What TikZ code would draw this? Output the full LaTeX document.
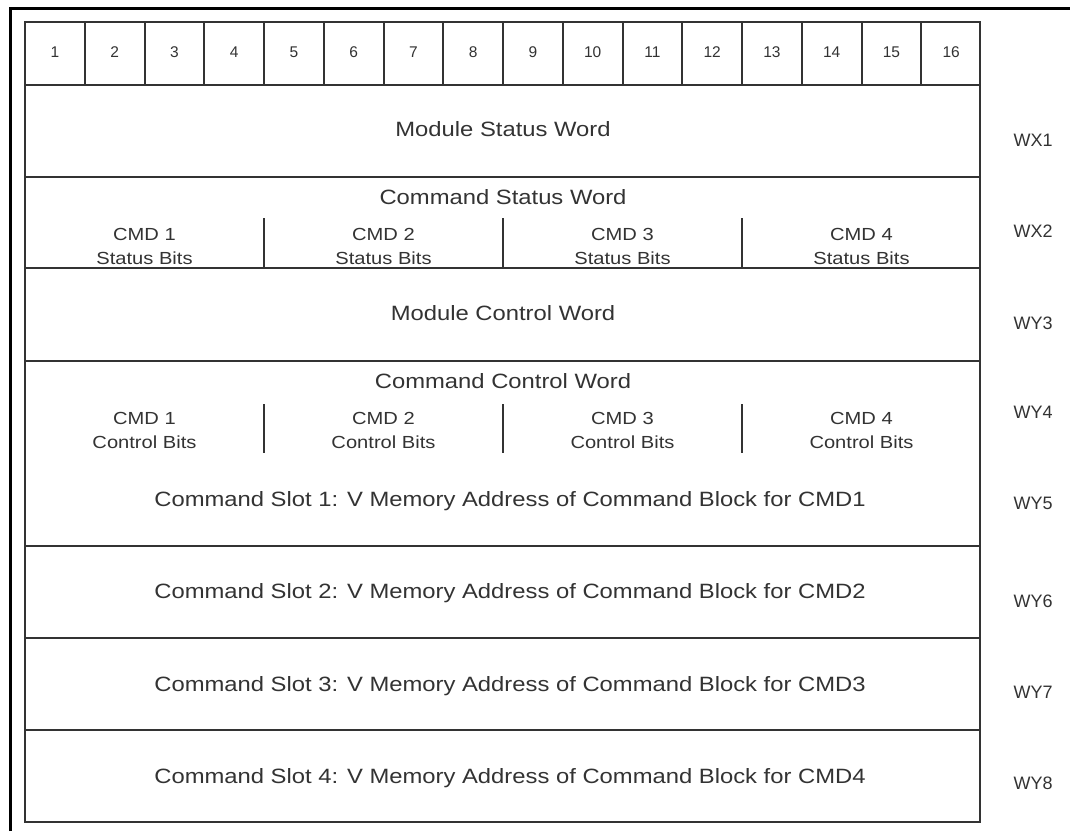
\documentclass[tikz,border=0pt]{standalone}
\usepackage{fontspec}
\setmainfont{Liberation Sans}
\newfontfamily\widefont{Liberation Sans}[FakeStretch=1.15]
\definecolor{ink}{HTML}{333333}
\definecolor{txt}{HTML}{333333}
\begin{document}
\begin{tikzpicture}[x=1pt,y=-1pt,
  grid/.style={draw=ink,line width=2pt},
  frame/.style={draw=black,line width=3pt},
  lbl/.style={inner sep=0pt,anchor=center,text=txt,text height=0.716em,text depth=0pt},
  bignote/.style={lbl,font=\widefont\fontsize{20.7}{24}\selectfont},
  smallnote/.style={lbl,font=\widefont\fontsize{17.5}{20}\selectfont},
  bitnum/.style={lbl,font=\fontsize{15.5}{18}\selectfont},
  wordlbl/.style={lbl,font=\fontsize{18}{21}\selectfont}]
\useasboundingbox (0,0) rectangle (1070,831);
\fill[white] (0,0) rectangle (1070,831);
% outer frame (left and top edges visible)
\draw[frame] (10,831) -- (10,8.5) -- (1070,8.5);
% table
\draw[grid] (25,22) rectangle (980,822);
\foreach \i in {1,...,15} \draw[grid] ({25+59.75*\i},22) -- ({25+59.75*\i},85);
\foreach \y in {85,177,268,361,546,638,730} \draw[grid] (25,\y) -- (980,\y);
\foreach \k in {1,2,3} {
  \draw[grid] ({25+239*\k},218) -- ({25+239*\k},268);
  \draw[grid] ({25+239*\k},404) -- ({25+239*\k},453);
}
% bit numbers
\foreach \i in {1,...,16} \node[bitnum] (b\i) at ({25+59.75*(\i-0.5)},54) {\i};
% row texts
\node[bignote] (msw) at (503,133) {Module Status Word};
\node[bignote] (csw) at (503,201) {Command Status Word};
\node[bignote] (mcw) at (503,317) {Module Control Word};
\node[bignote] (ccw) at (503,385) {Command Control Word};
\foreach \k in {1,2,3,4} {
  \node[smallnote] (sc\k) at ({25+239*(\k-0.5)},237) {CMD \k};
  \node[smallnote] (sb\k) at ({25+239*(\k-0.5)},261) {Status Bits};
  \node[smallnote] (cc\k) at ({25+239*(\k-0.5)},421) {CMD \k};
  \node[smallnote] (cb\k) at ({25+239*(\k-0.5)},445) {Control Bits};
}
\node[bignote] (s1) at (510,503) {Command Slot 1: V Memory Address of Command Block for CMD1};
\node[bignote] (s2) at (510,595) {Command Slot 2: V Memory Address of Command Block for CMD2};
\node[bignote] (s3) at (510,688) {Command Slot 3: V Memory Address of Command Block for CMD3};
\node[bignote] (s4) at (510,780) {Command Slot 4: V Memory Address of Command Block for CMD4};
% word labels
\node[wordlbl] (wx1) at (1033,143) {WX1};
\node[wordlbl] (wx2) at (1033,234) {WX2};
\node[wordlbl] (wy3) at (1033,326) {WY3};
\node[wordlbl] (wy4) at (1033,415) {WY4};
\node[wordlbl] (wy5) at (1033,506) {WY5};
\node[wordlbl] (wy6) at (1033,604) {WY6};
\node[wordlbl] (wy7) at (1033,695) {WY7};
\node[wordlbl] (wy8) at (1033,786) {WY8};
\end{tikzpicture}
\end{document}
